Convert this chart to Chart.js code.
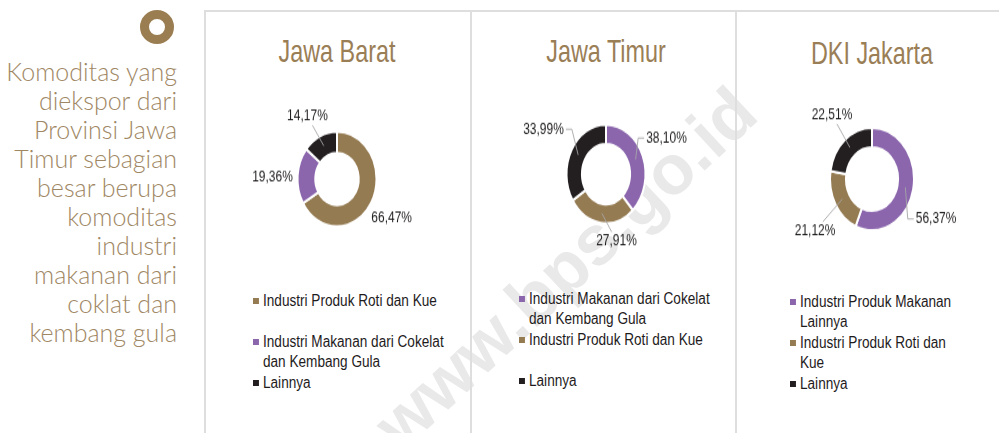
<!DOCTYPE html>
<html>
<head>
<meta charset="utf-8">
<script src="https://cdn.jsdelivr.net/npm/chart.js@4/dist/chart.umd.min.js"></script>
<style>
  body { margin: 0; width: 999px; height: 433px; background: #fff; position: relative; overflow: hidden;
         font-family: "Liberation Sans", Arial, sans-serif; }
  .abs { position: absolute; }
  .watermark { left: 565px; top: 268px; transform: translate(-50%, -50%) rotate(-43deg);
               font: bold 70px "Liberation Sans", Arial, sans-serif; color: #e9e9e9; white-space: nowrap; }
  .icon { left: 140px; top: 10px; width: 34px; height: 34px; box-sizing: border-box;
          border: 9.5px solid #9a7e52; border-radius: 50%; }
  .intro { left: 3px; top: 57px; width: 174px; text-align: right; font: 300 25px Lato, sans-serif;
           line-height: 29px; color: #a08764; }
  .hline { left: 204px; top: 10px; width: 795px; height: 2px; background: #dedede; }
  .vline { top: 10px; width: 2px; height: 423px; background: #dedede; }
  .title { width: 240px; text-align: center; font-size: 32px; line-height: 32px; color: #9a7e56;
           transform: scaleX(0.73); }
  .donut { width: 264px; height: 170px; }
  .legend { font-size: 16px; color: #1e1b1c; transform-origin: 0 0; }
  .legend .item { display: flex; min-height: 41px; line-height: 20.5px; }
  .legend .box { flex: none; height: 6px; margin-top: 7.5px; }
</style>
</head>
<body>
<div class="abs watermark">www.bps.go.id</div>
<div class="abs icon"></div>
<div class="abs intro">Komoditas yang diekspor dari Provinsi Jawa Timur sebagian besar berupa komoditas industri makanan dari coklat dan kembang gula</div>
<div class="abs hline"></div>
<div class="abs vline" style="left:204px"></div>
<div class="abs vline" style="left:470px"></div>
<div class="abs vline" style="left:735px"></div>
<div id="panels"></div>

<script>
// Provinces and their shares (%)
const regions = ['Jawa Barat', 'Jawa Timur', 'DKI Jakarta'];

const categoriesBarat = ['Industri Produk Roti dan Kue', 'Industri Makanan dari Cokelat dan Kembang Gula', 'Lainnya'];
const valuesBarat = [66.47, 19.36, 14.17];

const categoriesTimur = ['Industri Makanan dari Cokelat dan Kembang Gula', 'Industri Produk Roti dan Kue', 'Lainnya'];
const valuesTimur = [38.10, 27.91, 33.99];

const categoriesJakarta = ['Industri Produk Makanan Lainnya', 'Industri Produk Roti dan Kue', 'Lainnya'];
const valuesJakarta = [56.37, 21.12, 22.51];

// colours
const BROWN = '#957b52';
const PURPLE = '#8b66ad';
const BLACK = '#231f20';

// no narrow font installed, so text is squeezed horizontally
const NARROW = 0.85;
const LABEL_NARROW = 0.8;

// layout for each panel (centre of the donut, sizes, label placement)
const panels = [
  { title: regions[0], labels: categoriesBarat, values: valuesBarat, colors: [BROWN, PURPLE, BLACK],
    cx: 337, cy: 179, titleTop: 35, radius: 39.5, cutout: '55%', stretch: 1.2,
    dist: [63.5, 64.5, 60], shift: [1, -3, -4], leader: [0, 0, 1],
    legendLeft: 253, legendTop: 290.5, legendWidth: 202 },
  { title: regions[1], labels: categoriesTimur, values: valuesTimur, colors: [PURPLE, BROWN, BLACK],
    cx: 605.5, cy: 174, titleTop: 35, radius: 39.5, cutout: '61%', stretch: 1.25,
    dist: [67, 54.6, 72], shift: [-4, -18.5, 1], leader: [2, 1, 2],
    legendLeft: 519, legendTop: 288.5, legendWidth: 202 },
  { title: regions[2], labels: categoriesJakarta, values: valuesJakarta, colors: [PURPLE, BROWN, BLACK],
    cx: 872, cy: 179, titleTop: 37, radius: 42, cutout: '62%', stretch: 1.22,
    dist: [72, 71, 66], shift: [15.6, -7.7, 3.2], leader: [2, 1, 1],
    legendLeft: 790, legendTop: 291.5, legendWidth: 170 }
];

// percentage labels outside the ring, with grey leader lines
const sliceLabels = {
  id: 'sliceLabels',
  afterDatasetsDraw(chart, args, opts) {
    const ctx = chart.ctx;
    const meta = chart.getDatasetMeta(0);
    const values = chart.data.datasets[0].data;
    const k = opts.stretch;
    meta.data.forEach((arc, i) => {
      const { x, y, startAngle, endAngle, innerRadius, outerRadius } =
        arc.getProps(['x', 'y', 'startAngle', 'endAngle', 'innerRadius', 'outerRadius'], true);
      const mid = (startAngle + endAngle) / 2;
      const a = mid + opts.shift[i] * Math.PI / 180;
      const lx = opts.dist[i] * Math.cos(a);
      const ly = k * opts.dist[i] * Math.sin(a);
      const rm = (innerRadius + outerRadius) / 2;
      const rx = rm * Math.cos(mid);
      const ry = k * rm * Math.sin(mid);
      const text = values[i].toFixed(2).replace('.', ',') + '%';

      ctx.save();
      ctx.translate(x, y);
      ctx.scale(1, 1 / k);
      ctx.font = '15px "Liberation Sans", Arial, sans-serif';
      const w = ctx.measureText(text).width * LABEL_NARROW;
      const h = 14;

      ctx.strokeStyle = '#a6a6a6';
      ctx.lineWidth = 1;
      if (opts.leader[i] === 1) {
        const dx = lx - rx, dy = ly - ry;
        const t = Math.max(1 - (w / 2 + 2) / Math.abs(dx || 1e-6), 1 - (h / 2 + 2) / Math.abs(dy || 1e-6));
        ctx.beginPath();
        ctx.moveTo(rx, ry);
        ctx.lineTo(rx + dx * t, ry + dy * t);
        ctx.stroke();
      } else if (opts.leader[i] === 2) {
        const s = Math.sign(rx - lx);
        const ex = lx + s * (w / 2 + 2);
        ctx.beginPath();
        ctx.moveTo(rx, ry);
        ctx.lineTo(ex + s * 6, ly);
        ctx.lineTo(ex, ly);
        ctx.stroke();
      }

      ctx.translate(lx, ly);
      ctx.scale(LABEL_NARROW, 1);
      ctx.fillStyle = '#1e1b1c';
      ctx.textAlign = 'center';
      ctx.textBaseline = 'middle';
      ctx.fillText(text, 0, 0);
      ctx.restore();
    });
  }
};

const host = document.getElementById('panels');

panels.forEach(p => {
  const title = document.createElement('div');
  title.className = 'abs title';
  title.style.left = (p.cx - 120) + 'px';
  title.style.top = p.titleTop + 'px';
  title.textContent = p.title;
  host.appendChild(title);

  const wrap = document.createElement('div');
  wrap.className = 'abs donut';
  wrap.style.left = (p.cx - 132) + 'px';
  wrap.style.top = (p.cy - 85) + 'px';
  wrap.style.transform = `scaleY(${p.stretch})`;
  const canvas = document.createElement('canvas');
  canvas.width = 264;
  canvas.height = 170;
  wrap.appendChild(canvas);
  host.appendChild(wrap);

  const chart = new Chart(canvas, {
    type: 'doughnut',
    data: {
      labels: p.labels,
      datasets: [{
        data: p.values,
        backgroundColor: p.colors,
        borderColor: '#ffffff',
        borderWidth: 2
      }]
    },
    options: {
      responsive: false,
      animation: false,
      events: [],
      radius: p.radius,
      cutout: p.cutout,
      layout: { padding: 0 },
      plugins: {
        legend: { display: false },
        tooltip: { enabled: false },
        sliceLabels: { stretch: p.stretch, dist: p.dist, shift: p.shift, leader: p.leader }
      }
    },
    plugins: [sliceLabels]
  });

  // html legend built from the chart's own legend items
  const legend = document.createElement('div');
  legend.className = 'abs legend';
  legend.style.left = p.legendLeft + 'px';
  legend.style.top = p.legendTop + 'px';
  legend.style.width = (p.legendWidth / NARROW) + 'px';
  legend.style.transform = `scaleX(${NARROW})`;
  const items = Chart.overrides.doughnut.plugins.legend.labels.generateLabels(chart);
  items.forEach(item => {
    const row = document.createElement('div');
    row.className = 'item';
    const box = document.createElement('span');
    box.className = 'box';
    box.style.width = (6 / NARROW) + 'px';
    box.style.marginRight = (4 / NARROW) + 'px';
    box.style.background = item.fillStyle;
    const txt = document.createElement('span');
    txt.textContent = item.text;
    row.appendChild(box);
    row.appendChild(txt);
    legend.appendChild(row);
  });
  host.appendChild(legend);
});
</script>
</body>
</html>
